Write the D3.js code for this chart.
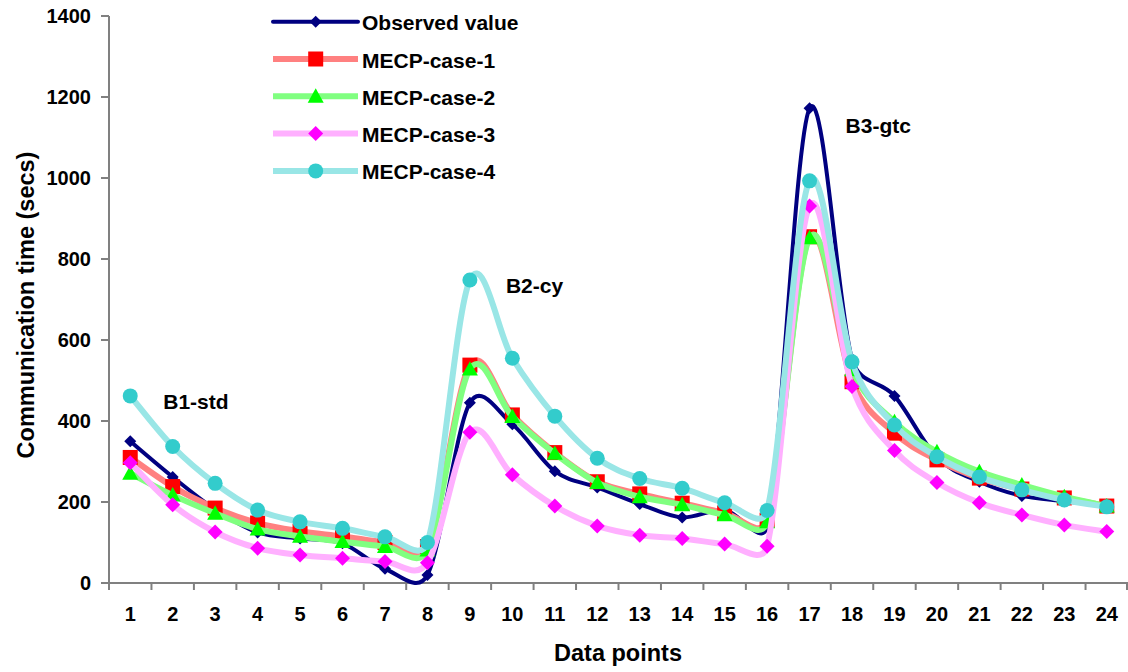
<!DOCTYPE html>
<html>
<head>
<meta charset="utf-8">
<script src="https://cdn.jsdelivr.net/npm/d3@7"></script>
<style>
  html, body { margin: 0; padding: 0; background: #fff; }
  svg { display: block; font-family: "Liberation Sans", Arial, sans-serif; font-weight: bold; }
</style>
</head>
<body>
<svg id="chart" width="1128" height="672"></svg>
<script>
// ---------- data ----------
const categories = d3.range(1, 25).map(String);
const yTicks = [0, 200, 400, 600, 800, 1000, 1200, 1400];
const seriesNames = ["Observed value", "MECP-case-1", "MECP-case-2", "MECP-case-3", "MECP-case-4"];

const observed = [350, 262, 182, 125, 110, 98, 35, 20, 445, 392, 276, 236, 195, 162, 180, 140, 1172, 553, 462, 310, 250, 215, 202, 190];
const mecp1    = [310, 238, 185, 148, 128, 115, 100, 90, 538, 415, 322, 250, 220, 197, 173, 155, 855, 497, 370, 304, 259, 232, 210, 190];
const mecp2    = [271, 217, 172, 133, 115, 102, 90, 81, 528, 411, 320, 248, 213, 193, 168, 151, 852, 526, 398, 324, 275, 242, 213, 190];
const mecp3    = [297, 193, 126, 86, 69, 61, 53, 50, 372, 267, 190, 141, 118, 110, 96, 91, 931, 485, 327, 248, 198, 168, 143, 127];
const mecp4    = [462, 337, 246, 180, 151, 135, 114, 100, 748, 555, 412, 308, 258, 234, 198, 179, 993, 546, 390, 312, 262, 230, 205, 188];

const annotations = [
  { text: "B1-std", cat: "1", value: 430 },
  { text: "B2-cy", cat: "9", value: 716 },
  { text: "B3-gtc", cat: "17", value: 1112 }
];

// ---------- styles ----------
const styles = [
  { line: "#000080", width: 4,   marker: "diamond", fill: "#000080", size: 12 },
  { line: "#FF8080", width: 6,   marker: "square",  fill: "#FF0000", size: 15 },
  { line: "#80FF80", width: 6,   marker: "triangle",fill: "#00FF00", size: 16 },
  { line: "#FFB0FF", width: 6,   marker: "diamond", fill: "#FF00FF", size: 15 },
  { line: "#99E6E6", width: 6,   marker: "circle",  fill: "#33CCCC", size: 15 }
];
const values = [observed, mecp1, mecp2, mecp3, mecp4];

// ---------- layout ----------
const svg = d3.select("#chart");
const plotLeft = 109, plotRight = 1128, plotTop = 16, plotBottom = 583;

const x = d3.scaleBand().domain(categories).range([plotLeft, plotRight]).padding(0);
const y = d3.scaleLinear().domain([0, 1400]).range([plotBottom, plotTop]);
const cx = c => x(c) + x.bandwidth() / 2;

const axisColor = "#808080";

// ---------- spreadsheet-style smoothed curve ----------
// Bezier segments with tangent (P[i+1]-P[i-1])/6, control arm capped at half the segment length.
function SmoothCurve(context) { this._context = context; }
SmoothCurve.prototype = {
  areaStart() {}, areaEnd() {},
  lineStart() { this._pts = []; },
  point(px, py) { this._pts.push([+px, +py]); },
  lineEnd() {
    const p = this._pts, n = p.length, ctx = this._context;
    if (!n) return;
    ctx.moveTo(p[0][0], p[0][1]);
    const tan = i => {
      const a = p[Math.max(0, i - 1)], b = p[Math.min(n - 1, i + 1)];
      return [(b[0] - a[0]) / 6, (b[1] - a[1]) / 6];
    };
    const cap = (t, len) => {
      const m = Math.hypot(t[0], t[1]);
      const lim = 0.5 * len;
      return m > lim && m > 0 ? [t[0] * lim / m, t[1] * lim / m] : t;
    };
    for (let i = 0; i < n - 1; i++) {
      const a = p[i], b = p[i + 1];
      const len = Math.hypot(b[0] - a[0], b[1] - a[1]);
      const t1 = cap(tan(i), len), t2 = cap(tan(i + 1), len);
      ctx.bezierCurveTo(a[0] + t1[0], a[1] + t1[1], b[0] - t2[0], b[1] - t2[1], b[0], b[1]);
    }
  }
};
const smoothCurve = context => new SmoothCurve(context);

// y axis
const yAxis = svg.append("g");
yAxis.append("line").attr("x1", plotLeft).attr("x2", plotLeft).attr("y1", y(0)).attr("y2", y(1400))
  .attr("stroke", axisColor).attr("stroke-width", 2);
yTicks.forEach(t => {
  yAxis.append("line").attr("x1", plotLeft - 8).attr("x2", plotLeft).attr("y1", y(t)).attr("y2", y(t))
    .attr("stroke", axisColor).attr("stroke-width", 2);
  yAxis.append("text").attr("x", plotLeft - 18).attr("y", y(t)).attr("dy", "0.36em")
    .attr("text-anchor", "end").attr("font-size", 20).attr("fill", "#000").text(t);
});

// x axis
const xAxis = svg.append("g");
xAxis.append("line").attr("x1", plotLeft).attr("x2", plotRight).attr("y1", y(0)).attr("y2", y(0))
  .attr("stroke", axisColor).attr("stroke-width", 2);
categories.forEach((c, i) => {
  xAxis.append("line").attr("x1", x(c)).attr("x2", x(c)).attr("y1", y(0)).attr("y2", y(0) + 7)
    .attr("stroke", axisColor).attr("stroke-width", 2);
  xAxis.append("text").attr("x", cx(c)).attr("y", 621).attr("text-anchor", "middle")
    .attr("font-size", 20).attr("fill", "#000").text(c);
});
xAxis.append("line").attr("x1", plotRight - 1).attr("x2", plotRight - 1).attr("y1", y(0)).attr("y2", y(0) + 7)
  .attr("stroke", axisColor).attr("stroke-width", 2);

// axis titles
svg.append("text").attr("x", 618).attr("y", 661).attr("text-anchor", "middle")
  .attr("font-size", 23.5).attr("fill", "#000").text("Data points");
svg.append("text").attr("transform", "translate(34,305) rotate(-90)").attr("text-anchor", "middle")
  .attr("font-size", 23.5).attr("fill", "#000").text("Communication time (secs)");

// marker helper
function drawMarker(g, type, px, py, size, fill) {
  const h = size / 2;
  if (type === "diamond") {
    g.append("path").attr("d", `M${px},${py - h}L${px + h},${py}L${px},${py + h}L${px - h},${py}Z`).attr("fill", fill);
  } else if (type === "square") {
    g.append("rect").attr("x", px - h).attr("y", py - h).attr("width", size).attr("height", size).attr("fill", fill);
  } else if (type === "triangle") {
    g.append("path").attr("d", `M${px},${py - h}L${px + h},${py + h * 0.8}L${px - h},${py + h * 0.8}Z`).attr("fill", fill);
  } else if (type === "circle") {
    g.append("circle").attr("cx", px).attr("cy", py).attr("r", h).attr("fill", fill);
  }
}

// series
const line = d3.line().x(d => cx(d.c)).y(d => y(d.v)).curve(smoothCurve);
values.forEach((vals, si) => {
  const st = styles[si];
  const pts = vals.map((v, i) => ({ c: categories[i], v }));
  const g = svg.append("g");
  g.append("path").datum(pts).attr("d", line).attr("fill", "none")
    .attr("stroke", st.line).attr("stroke-width", st.width).attr("stroke-linejoin", "round").attr("stroke-linecap", "round");
  pts.forEach(p => drawMarker(g, st.marker, cx(p.c), y(p.v), st.size, st.fill));
});

// annotations
annotations.forEach(a => {
  svg.append("text").attr("x", cx(a.cat) + (a.cat === "1" ? 33 : 36))
    .attr("y", y(a.value)).attr("font-size", 21).attr("fill", "#000").text(a.text);
});

// legend
const legend = svg.append("g");
seriesNames.forEach((name, i) => {
  const st = styles[i];
  const ly = 21.7 + i * 37.3;
  legend.append("line").attr("x1", 273).attr("x2", 358).attr("y1", ly).attr("y2", ly)
    .attr("stroke", st.line).attr("stroke-width", st.width).attr("stroke-linecap", i === 0 ? "round" : "butt");
  drawMarker(legend, st.marker, 315.7, ly, st.size, st.fill);
  legend.append("text").attr("x", 362).attr("y", ly + 8.5).attr("font-size", 21).attr("fill", "#000").text(name);
});
</script>
</body>
</html>
